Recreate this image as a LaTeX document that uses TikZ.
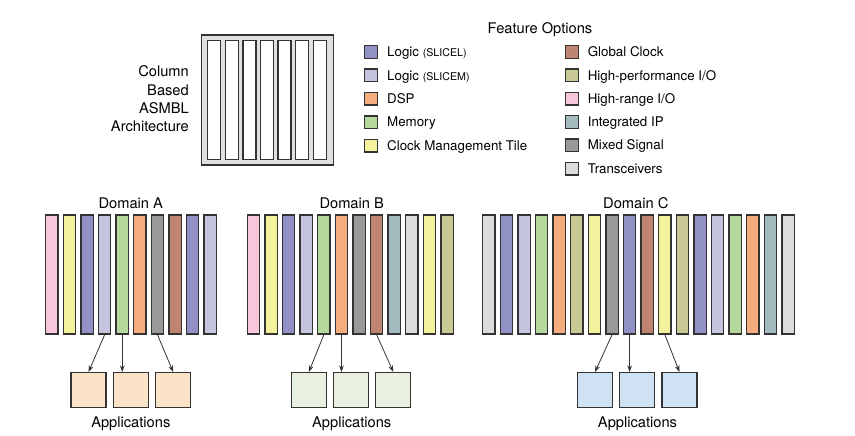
\documentclass[tikz,border=0pt]{standalone}
\usepackage{fontspec}
\setmainfont{TeX Gyre Heros}
\usetikzlibrary{arrows.meta}

\definecolor{slicel}{RGB}{145,145,197}
\definecolor{slicem}{RGB}{197,197,224}
\definecolor{dsp}{RGB}{245,172,126}
\definecolor{memory}{RGB}{181,216,156}
\definecolor{cmt}{RGB}{245,242,158}
\definecolor{gclock}{RGB}{190,134,112}
\definecolor{hpio}{RGB}{201,201,149}
\definecolor{hrio}{RGB}{246,198,219}
\definecolor{intip}{RGB}{163,186,191}
\definecolor{mixsig}{RGB}{153,153,153}
\definecolor{xcvr}{RGB}{220,220,220}
\definecolor{edge}{RGB}{51,51,51}
\definecolor{frame}{RGB}{224,224,224}
\definecolor{appA}{RGB}{251,227,200}
\definecolor{appB}{RGB}{232,241,223}
\definecolor{appC}{RGB}{207,226,243}

\tikzset{every picture/.style={line width=0.75pt},
  strip/.style={draw=edge, line width=1pt, minimum width=9.2pt, minimum height=89.25pt, inner sep=0pt},
  appbox/.style={draw=edge, line width=1pt, minimum size=26.25pt, inner sep=0pt},
  swatch/.style={draw=edge, line width=1pt, minimum size=9.5pt, inner sep=0pt},
  heading/.style={anchor=base, inner sep=0pt, font=\fontsize{11}{13.7}\selectfont},
  keytext/.style={anchor=base west, inner sep=0pt, font=\fontsize{10}{12}\selectfont},
  feed/.style={draw=edge, line width=0.6pt, -{Stealth[length=5pt,width=3.5pt]}}
}

\begin{document}
\begin{tikzpicture}[x=0.75pt,y=0.75pt,yscale=-1,xscale=1]
\useasboundingbox (0,0) rectangle (855,435);

%Shape: Rectangle [ASMBL frame]
\draw [draw=edge, fill=frame, line width=1pt] (201.7,35) rectangle (333.3,165) ;
\foreach \i in {0,...,6}
  \draw [draw=edge, fill=white, line width=1pt] ({207.7+17.6*\i},40.7) rectangle ({220.7+17.6*\i},159.3) ;

% Text Node
\node [anchor=base east, inner sep=0pt, align=right, font=\fontsize{11}{13.7}\selectfont] (asmbl) at (189.3,131.6) {Column\\Based\\ASMBL\\Architecture};

% Legend
\node [heading] (feat) at (540,34) {Feature Options};
\foreach \c/\t [count=\i] in {slicel/{Logic {\fontsize{8}{10}\selectfont(SLICEL)}}, slicem/{Logic {\fontsize{8}{10}\selectfont(SLICEM)}}, dsp/{DSP}, memory/{Memory}, cmt/{Clock Management Tile}} {
  \node [swatch, fill=\c] (kl\i) at (371,{52+23.4*(\i-1)}) {};
  \node [keytext] (tl\i) at (386.7,{56.7+23.4*(\i-1)}) {\t};
}
\foreach \c/\t [count=\i] in {gclock/{Global Clock}, hpio/{High-performance I/O}, hrio/{High-range I/O}, intip/{Integrated IP}, mixsig/{Mixed Signal}, xcvr/{Transceivers}} {
  \node [swatch, fill=\c] (kr\i) at (572,{52+23.3*(\i-1)}) {};
  \node [keytext] (tr\i) at (587.3,{56.7+23.3*(\i-1)}) {\t};
}

% Domain A
\node [heading] (doma) at (130.8,208.5) {Domain A};
\foreach \c [count=\i] in {hrio,cmt,slicel,slicem,memory,dsp,mixsig,gclock,slicel,slicem}
  \node [strip, fill=\c] (a\i) at ({51.85+17.6*(\i-1)},274.5) {};

% Domain B
\node [heading] (domb) at (351.7,208.5) {Domain B};
\foreach \c [count=\i] in {hrio,cmt,slicel,slicem,memory,dsp,mixsig,gclock,intip,xcvr,cmt,hpio}
  \node [strip, fill=\c] (b\i) at ({253.45+17.6*(\i-1)},274.5) {};

% Domain C
\node [heading] (domc) at (635.8,208.5) {Domain C};
\foreach \c [count=\i] in {xcvr,slicel,slicem,memory,dsp,hpio,cmt,mixsig,slicel,gclock,cmt,hpio,slicel,slicem,memory,dsp,intip,xcvr}
  \node [strip, fill=\c] (c\i) at ({488.85+17.6*(\i-1)},274.5) {};

% Applications
\foreach \x [count=\i] in {88.5,130.8,173.2}
  \node [appbox, fill=appA] (pa\i) at (\x,390.2) {};
\foreach \x [count=\i] in {308.8,351.3,393.3}
  \node [appbox, fill=appB] (pb\i) at (\x,390.2) {};
\foreach \x [count=\i] in {595,637,679.5}
  \node [appbox, fill=appC] (pc\i) at (\x,390.2) {};
\node [heading] (appla) at (130.8,427.5) {Applications};
\node [heading] (applb) at (351.7,427.5) {Applications};
\node [heading] (applc) at (637.5,427.5) {Applications};

%Straight Lines [arrows]
\draw [feed] (a4.south) -- (pa1.north) ;
\draw [feed] (a5.south) -- (a5.south |- pa2.north) ;
\draw [feed] (a7.south) -- (pa3.north) ;
\draw [feed] (b5.south) -- (pb1.north) ;
\draw [feed] (b6.south) -- (b6.south |- pb2.north) ;
\draw [feed] (b8.south) -- (pb3.north) ;
\draw [feed] (c8.south) -- (pc1.north) ;
\draw [feed] (c9.south) -- (c9.south |- pc2.north) ;
\draw [feed] (c11.south) -- (pc3.north) ;

\end{tikzpicture}
\end{document}
